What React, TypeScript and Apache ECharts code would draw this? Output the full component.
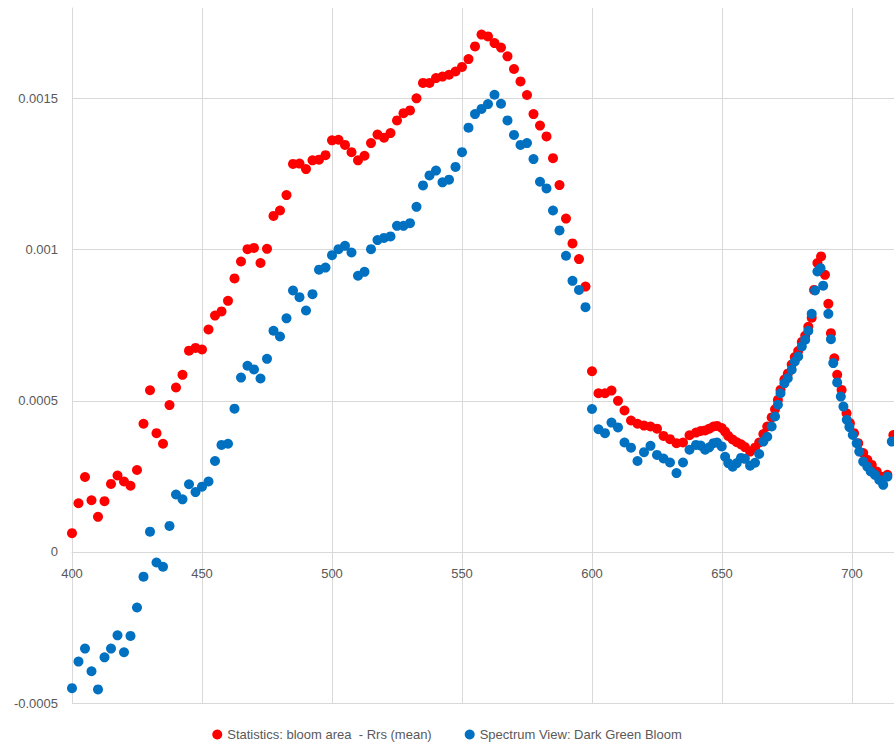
import React, { useEffect, useRef } from "react";
import * as echarts from "echarts";

const seriesNames = [
  "Statistics: bloom area  - Rrs (mean)",
  "Spectrum View: Dark Green Bloom",
];

const xTicks = [400, 450, 500, 550, 600, 650, 700];
const yTicks = [-0.0005, 0, 0.0005, 0.001, 0.0015];
const yTop = 0.0018;

const redWavelengths = [
  400, 402.5, 405, 407.5, 410, 412.5, 415, 417.5, 420, 422.5, 425, 427.5, 430, 432.5, 435, 437.5,
  440, 442.5, 445, 447.5, 450, 452.5, 455, 457.5, 460, 462.5, 465, 467.5, 470, 472.5, 475, 477.5,
  480, 482.5, 485, 487.5, 490, 492.5, 495, 497.5, 500, 502.5, 505, 507.5, 510, 512.5, 515, 517.5,
  520, 522.5, 525, 527.5, 530, 532.5, 535, 537.5, 540, 542.5, 545, 547.5, 550, 552.5, 555, 557.5,
  560, 562.5, 565, 567.5, 570, 572.5, 575, 577.5, 580, 582.5, 585, 587.5, 590, 592.5, 595, 597.5,
  600, 602.5, 605, 607.5, 610, 612.5, 615, 617.5, 620, 622.5, 625, 627.5, 630, 632.5, 635, 637.5,
  640.0, 641.8, 643.5, 645.1, 646.7, 648.1, 649.9, 651.2, 652.4, 654.1, 655.7, 657.3, 658.8, 660.8,
  662.7, 664.3, 665.9, 667.4, 669.1, 670.4, 671.5, 672.5, 674.0, 675.3, 676.8, 678.0, 679.3, 680.7,
  682.0, 683.2, 684.5, 685.4, 686.7, 688.1, 689.6, 690.9, 691.9, 693.2, 694.3, 696.0, 697.9, 699.2,
  700.8, 702.4, 704.3, 705.9, 707.6, 709.5, 711.4, 713.6, 715.9,
];

const redValues = [
  6.2e-5, 1.61e-4, 2.48e-4, 1.71e-4, 1.16e-4, 1.68e-4, 2.25e-4, 2.53e-4, 2.33e-4, 2.19e-4, 2.71e-4, 4.24e-4, 5.35e-4, 3.93e-4, 3.58e-4, 4.86e-4,
  5.44e-4, 5.86e-4, 6.66e-4, 6.75e-4, 6.7e-4, 7.36e-4, 7.82e-4, 7.96e-4, 8.31e-4, 9.05e-4, 9.61e-4, 1.002e-3, 1.006e-3, 9.56e-4, 1.003e-3, 1.112e-3,
  1.13e-3, 1.181e-3, 1.284e-3, 1.285e-3, 1.267e-3, 1.296e-3, 1.298e-3, 1.313e-3, 1.362e-3, 1.364e-3, 1.347e-3, 1.323e-3, 1.296e-3, 1.311e-3, 1.353e-3, 1.381e-3,
  1.371e-3, 1.386e-3, 1.428e-3, 1.452e-3, 1.461e-3, 1.501e-3, 1.552e-3, 1.552e-3, 1.568e-3, 1.573e-3, 1.579e-3, 1.59e-3, 1.605e-3, 1.631e-3, 1.673e-3, 1.712e-3,
  1.706e-3, 1.684e-3, 1.669e-3, 1.64e-3, 1.598e-3, 1.557e-3, 1.512e-3, 1.449e-3, 1.411e-3, 1.375e-3, 1.303e-3, 1.214e-3, 1.103e-3, 1.021e-3, 9.69e-4, 8.78e-4,
  5.98e-4, 5.25e-4, 5.25e-4, 5.34e-4, 5.0e-4, 4.68e-4, 4.35e-4, 4.24e-4, 4.18e-4, 4.15e-4, 4.08e-4, 3.84e-4, 3.73e-4, 3.6e-4, 3.62e-4, 3.86e-4,
  3.95e-4, 4.0e-4, 4.02e-4, 4.08e-4, 4.15e-4, 4.17e-4, 4.1e-4, 3.98e-4, 3.84e-4, 3.72e-4, 3.63e-4, 3.56e-4, 3.47e-4, 3.32e-4,
  3.45e-4, 3.62e-4, 3.9e-4, 4.15e-4, 4.45e-4, 4.72e-4, 5.03e-4, 5.36e-4, 5.7e-4, 5.9e-4, 6.2e-4, 6.45e-4, 6.65e-4, 6.95e-4,
  7.15e-4, 7.45e-4, 7.75e-4, 8.67e-4, 9.56e-4, 9.78e-4, 9.17e-4, 8.21e-4, 7.24e-4, 6.41e-4, 5.86e-4, 5.36e-4, 4.59e-4, 4.26e-4,
  3.93e-4, 3.6e-4, 3.27e-4, 3.05e-4, 2.88e-4, 2.66e-4, 2.49e-4, 2.55e-4, 3.87e-4,
];

const blueWavelengths = [
  400, 402.5, 405, 407.5, 410, 412.5, 415, 417.5, 420, 422.5, 425, 427.5, 430, 432.5, 435, 437.5,
  440, 442.5, 445, 447.5, 450, 452.5, 455, 457.5, 460, 462.5, 465, 467.5, 470, 472.5, 475, 477.5,
  480, 482.5, 485, 487.5, 490, 492.5, 495, 497.5, 500, 502.5, 505, 507.5, 510, 512.5, 515, 517.5,
  520, 522.5, 525, 527.5, 530, 532.5, 535, 537.5, 540, 542.5, 545, 547.5, 550, 552.5, 555, 557.5,
  560, 562.5, 565, 567.5, 570, 572.5, 575, 577.5, 580, 582.5, 585, 587.5, 590, 592.5, 595, 597.5,
  600, 602.5, 605, 607.5, 610, 612.5, 615, 617.5, 620, 622.5, 625, 627.5, 630, 632.5, 635, 637.5,
  640.0, 641.8, 643.5, 645.1, 646.7, 648.1, 649.9, 651.2, 652.4, 654.1, 655.7, 657.3, 658.8, 660.8,
  662.7, 664.3, 665.9, 667.4, 669.1, 670.4, 671.5, 672.5, 674.0, 675.3, 676.8, 678.0, 679.3, 680.7,
  682.0, 683.2, 684.5, 685.8, 686.7, 687.9, 688.9, 690.9, 691.9, 692.8, 694.3, 695.7, 696.7, 698.0,
  699.0, 700.3, 701.8, 702.8, 704.3, 705.9, 707.2, 708.8, 710.5, 712.0, 713.6, 715.3,
];

const blueValues = [
  -4.51e-4, -3.63e-4, -3.2e-4, -3.95e-4, -4.55e-4, -3.49e-4, -3.2e-4, -2.76e-4, -3.32e-4, -2.78e-4, -1.84e-4, -8.2e-5, 6.7e-5, -3.5e-5, -4.9e-5, 8.6e-5,
  1.9e-4, 1.74e-4, 2.24e-4, 1.98e-4, 2.16e-4, 2.33e-4, 3.01e-4, 3.54e-4, 3.58e-4, 4.74e-4, 5.77e-4, 6.16e-4, 6.04e-4, 5.74e-4, 6.39e-4, 7.32e-4,
  7.13e-4, 7.73e-4, 8.65e-4, 8.43e-4, 7.99e-4, 8.53e-4, 9.34e-4, 9.41e-4, 9.82e-4, 1.002e-3, 1.013e-3, 9.91e-4, 9.14e-4, 9.27e-4, 1.002e-3, 1.032e-3,
  1.039e-3, 1.044e-3, 1.079e-3, 1.079e-3, 1.088e-3, 1.142e-3, 1.213e-3, 1.246e-3, 1.262e-3, 1.223e-3, 1.232e-3, 1.274e-3, 1.323e-3, 1.404e-3, 1.449e-3, 1.466e-3,
  1.482e-3, 1.513e-3, 1.483e-3, 1.428e-3, 1.38e-3, 1.347e-3, 1.353e-3, 1.3e-3, 1.225e-3, 1.203e-3, 1.13e-3, 1.064e-3, 9.8e-4, 8.97e-4, 8.67e-4, 8.1e-4,
  4.73e-4, 4.06e-4, 3.93e-4, 4.28e-4, 4.12e-4, 3.62e-4, 3.45e-4, 3.01e-4, 3.3e-4, 3.51e-4, 3.21e-4, 3.09e-4, 2.96e-4, 2.61e-4, 2.96e-4, 3.38e-4,
  3.54e-4, 3.52e-4, 3.38e-4, 3.46e-4, 3.6e-4, 3.62e-4, 3.49e-4, 3.15e-4, 2.94e-4, 2.82e-4, 2.94e-4, 3.11e-4, 3.08e-4, 2.85e-4,
  2.95e-4, 3.24e-4, 3.65e-4, 3.81e-4, 4.15e-4, 4.48e-4, 4.87e-4, 5.25e-4, 5.58e-4, 5.75e-4, 6.03e-4, 6.3e-4, 6.47e-4, 6.8e-4,
  7.02e-4, 7.32e-4, 7.88e-4, 8.65e-4, 9.28e-4, 9.39e-4, 8.81e-4, 7.88e-4, 7.04e-4, 6.25e-4, 5.61e-4, 5.14e-4, 4.81e-4, 4.37e-4,
  4.13e-4, 3.87e-4, 3.6e-4, 3.32e-4, 2.99e-4, 2.82e-4, 2.66e-4, 2.55e-4, 2.38e-4, 2.22e-4, 2.49e-4, 3.65e-4,
];

const colors = ["#FF0000", "#0070C0"];
const GRID_COLOR = "#D9D9D9";
const TEXT_COLOR = "#595959";
const FONT = "'Liberation Sans', Arial, sans-serif";

export default function App() {
  const ref = useRef<HTMLDivElement>(null);

  useEffect(() => {
    if (!ref.current) return;
    const chart = echarts.init(ref.current, undefined, { renderer: "svg" });
    const W = 894;
    const H = 744;
    const left = 72;
    const top = 8;
    const bottom = 41;
    const pxPerUnit = 2.6;
    const xMin = xTicks[0];
    const xMax = xMin + (W - left) / pxPerUnit;
    const xStep = xTicks[1] - xTicks[0];
    const yMin = yTicks[0];
    const yStep = yTicks[1] - yTicks[0];
    const plotH = H - top - bottom;
    const zeroOffset = ((0 - yMin) / (yTop - yMin)) * plotH;

    const redData = redWavelengths.map((w, i) => [w, redValues[i]]);
    const blueData = blueWavelengths.map((w, i) => [w, blueValues[i]]);

    const xLineColors = xTicks.map(() => GRID_COLOR).concat(["rgba(0,0,0,0)"]);
    const yLineColors = yTicks.map(() => GRID_COLOR).concat(["rgba(0,0,0,0)"]);

    chart.setOption({
      animation: false,
      backgroundColor: "#ffffff",
      textStyle: { fontFamily: FONT },
      grid: { left, right: 0, top, bottom, containLabel: false },
      legend: {
        top: 723,
        left: "center",
        itemWidth: 10,
        itemHeight: 10,
        itemGap: 33,
        icon: "circle",
        textStyle: { color: TEXT_COLOR, fontSize: 13, fontFamily: FONT },
        data: seriesNames,
      },
      xAxis: {
        type: "value",
        position: "bottom",
        min: xMin,
        max: xMax,
        interval: xStep,
        offset: -zeroOffset,
        axisLine: { show: true, onZero: false, lineStyle: { color: GRID_COLOR, width: 1 } },
        axisTick: { show: false },
        axisLabel: {
          color: TEXT_COLOR,
          fontSize: 13,
          fontFamily: FONT,
          margin: 15,
          showMaxLabel: false,
          showMinLabel: true,
        },
        splitLine: { show: true, lineStyle: { color: xLineColors, width: 1 } },
      },
      yAxis: {
        type: "value",
        min: yMin,
        max: yTop,
        interval: yStep,
        axisLine: { show: true, onZero: false, lineStyle: { color: GRID_COLOR, width: 1 } },
        axisTick: { show: false },
        axisLabel: {
          color: TEXT_COLOR,
          fontSize: 13,
          fontFamily: FONT,
          margin: 14,
          showMaxLabel: false,
          formatter: (v: number) => String(+v.toFixed(4)),
        },
        splitLine: { show: true, lineStyle: { color: yLineColors, width: 1 } },
      },
      series: [
        {
          name: seriesNames[0],
          type: "scatter",
          symbol: "circle",
          symbolSize: 10,
          itemStyle: { color: colors[0], opacity: 1 },
          data: redData,
          clip: false,
        },
        {
          name: seriesNames[1],
          type: "scatter",
          symbol: "circle",
          symbolSize: 10,
          itemStyle: { color: colors[1], opacity: 1 },
          data: blueData,
          clip: false,
        },
      ],
    });

    return () => chart.dispose();
  }, []);

  return (
    <div
      style={{
        position: "fixed",
        left: 0,
        top: 0,
        width: 894,
        height: 744,
        overflow: "hidden",
        background: "#fff",
      }}
    >
      <div ref={ref} style={{ width: 894, height: 744 }} />
    </div>
  );
}
